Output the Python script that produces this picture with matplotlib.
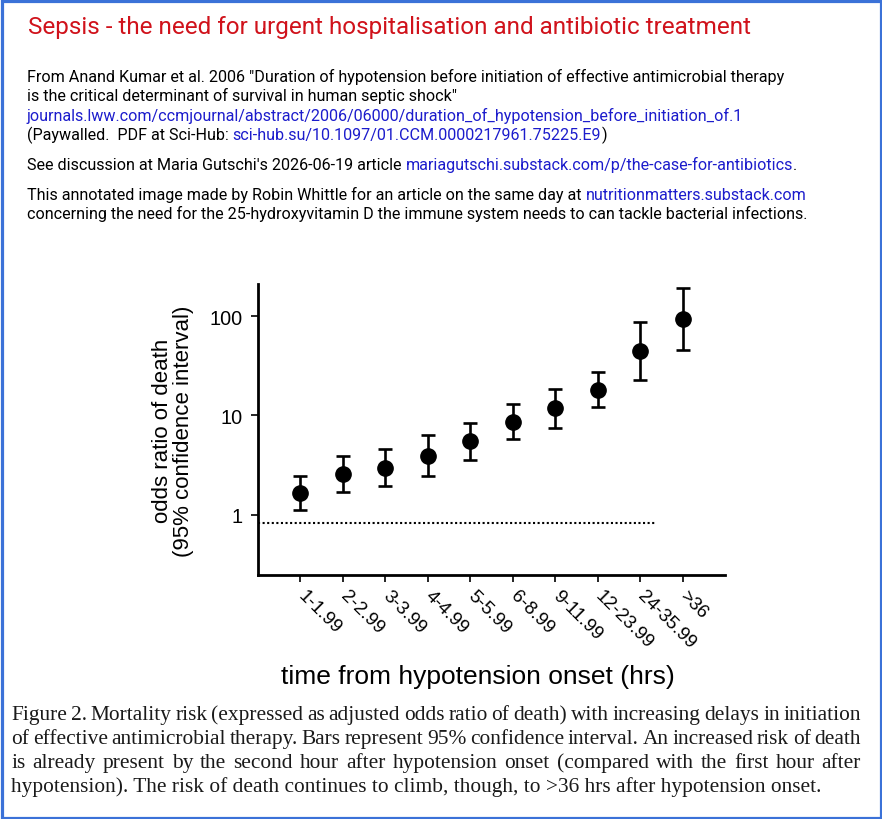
import numpy as np
import matplotlib.pyplot as plt
from matplotlib.patches import Rectangle

# data (odds ratio of death, 95% CI)
categories = ['1-1.99', '2-2.99', '3-3.99', '4-4.99', '5-5.99', '6-8.99',
              '9-11.99', '12-23.99', '24-35.99', '>36']
odds = [1.66, 2.56, 2.99, 3.94, 5.5, 8.67, 11.8, 18.2, 44.2, 93.3]
ci_low = [1.12, 1.70, 1.95, 2.48, 3.55, 5.8, 7.48, 12.2, 22.6, 45.5]
ci_high = [2.47, 3.92, 4.57, 6.37, 8.47, 12.95, 18.5, 27.4, 87.0, 190.0]
ref_level = 0.83

W, H = 882, 820
RED = '#d0121b'
BLUE = '#1c1ccc'

fig = plt.figure(figsize=(W / 100, H / 100), dpi=100)
fig.patch.set_facecolor('white')
renderer = fig.canvas.get_renderer()


def text_width(s, **kw):
    # width in pixels, keeping leading/trailing spaces
    a = fig.text(0, 0, 'x' + s + 'x', **kw)
    b = fig.text(0, 0, 'xx', **kw)
    w = a.get_window_extent(renderer).width - b.get_window_extent(renderer).width
    a.remove()
    b.remove()
    return w


def put_line(x, y, pieces, size, family='Roboto'):
    # y is the baseline in pixels from the top
    for s, col in pieces:
        fig.text(x / W, 1 - y / H, s, color=col, fontsize=size, family=family,
                 ha='left', va='baseline')
        x += text_width(s, fontsize=size, family=family)


def justify_line(x0, x1, y, s, size, family='Liberation Serif'):
    words = s.split()
    widths = [text_width(w, fontsize=size, family=family) for w in words]
    gap = (x1 - x0 - sum(widths)) / (len(words) - 1)
    x = x0
    for w, wd in zip(words, widths):
        fig.text(x / W, 1 - y / H, w, fontsize=size, family=family,
                 ha='left', va='baseline', color='#1a1a1a')
        x += wd + gap


# header
TS = 11.6
put_line(28, 34, [('Sepsis - the need for urgent hospitalisation and antibiotic treatment', RED)], 17.5)
put_line(27, 82, [('From Anand Kumar et al. 2006 "Duration of hypotension before initiation of effective antimicrobial therapy', 'black')], TS)
put_line(27, 101, [('is the critical determinant of survival in human septic shock"', 'black')], TS)
put_line(27, 121, [('journals.lww.com/ccmjournal/abstract/2006/06000/duration_of_hypotension_before_initiation_of.1', BLUE)], TS)
put_line(27, 140, [('(Paywalled.  PDF at Sci-Hub: ', 'black'),
                   ('sci-hub.su/10.1097/01.CCM.0000217961.75225.E9', BLUE),
                   (')', 'black')], TS)
put_line(27, 170, [("See discussion at Maria Gutschi's 2026-06-19 article ", 'black'),
                   ('mariagutschi.substack.com/p/the-case-for-antibiotics', BLUE),
                   ('.', 'black')], TS)
put_line(27, 200, [('This annotated image made by Robin Whittle for an article on the same day at ', 'black'),
                   ('nutritionmatters.substack.com', BLUE)], TS)
put_line(27, 219, [('concerning the need for the 25-hydroxyvitamin D the immune system needs to can tackle bacterial infections.', 'black')], TS)

# chart
ax = fig.add_axes([258 / W, 1 - 576 / H, 467 / W, 291 / H])
x = np.arange(1, len(categories) + 1)
odds_a = np.array(odds)
yerr = [odds_a - np.array(ci_low), np.array(ci_high) - odds_a]
ax.errorbar(x, odds, yerr=yerr, fmt='o', color='black', ms=11,
            elinewidth=1.9, capsize=5, capthick=1.9)
ax.plot([0, 9.35], [ref_level, ref_level], linestyle=(0, (1, 1.2)),
        color='black', lw=1.5)

ax.set_yscale('log')
ax.set_ylim(0.249, 210)
ax.set_xlim(0, 11)
ax.set_yticks([1, 10, 100])
ax.set_yticklabels(['1', '10', '100'], fontsize=14.3, family='Liberation Sans')
ax.yaxis.set_minor_locator(plt.NullLocator())
ax.set_xticks(x)
ax.set_xticklabels(categories, fontsize=13.5, family='Liberation Sans',
                   rotation=-45, ha='left', va='center', rotation_mode='anchor')
ax.tick_params(axis='both', direction='out', length=5, width=1.2, color='black')
ax.tick_params(axis='y', pad=6)
ax.tick_params(axis='x', pad=8)
for side in ['top', 'right']:
    ax.spines[side].set_visible(False)
for side in ['left', 'bottom']:
    ax.spines[side].set_linewidth(2)

fig.text(173 / W, 1 - 431 / H, 'odds ratio of death\n(95% confidence interval)',
         rotation=90, ha='center', va='center', multialignment='center',
         fontsize=16, family='Liberation Sans', linespacing=1.0)
fig.text(478 / W, 1 - 677 / H, 'time from hypotension onset (hrs)',
         ha='center', va='center', fontsize=19, family='Liberation Sans')

# caption
CS = 15.4
cap_lines = [
    'Figure 2. Mortality risk (expressed as adjusted odds ratio of death) with increasing delays in initiation',
    'of effective antimicrobial therapy. Bars represent 95% confidence interval. An increased risk of death',
    'is already present by the second hour after hypotension onset (compared with the first hour after',
]
for i, s in enumerate(cap_lines):
    justify_line(11, 861, 720 + 24 * i, s, CS)
fig.text(11 / W, 1 - 792 / H,
         'hypotension). The risk of death continues to climb, though, to >36 hrs after hypotension onset.',
         fontsize=CS, family='Liberation Serif', ha='left', va='baseline', color='#1a1a1a')

# blue frame
fig.patches.append(Rectangle((1.5 / W, 1.5 / H), 1 - 3 / W, 1 - 3 / H,
                             transform=fig.transFigure, fill=False,
                             edgecolor='#3b72d8', lw=2.3))

fig.savefig('out.png', dpi=100)
